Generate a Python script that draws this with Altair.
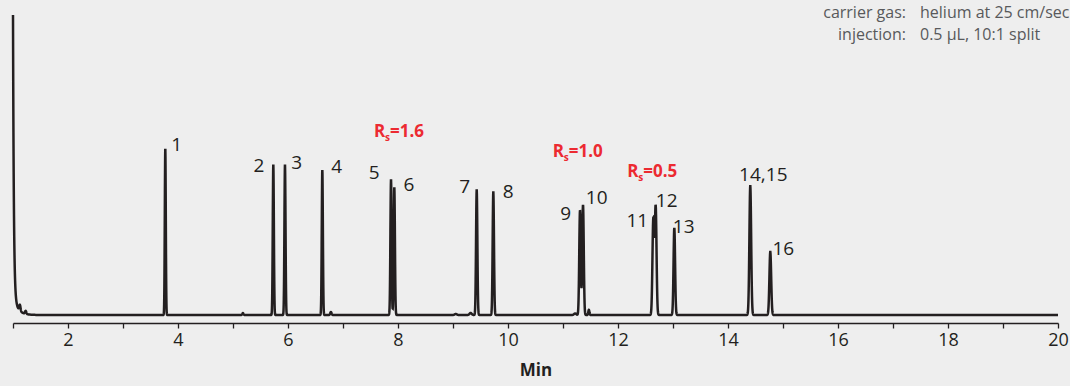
import altair as alt
import numpy as np
import pandas as pd

# ---- Peak table (retention time in min, height above baseline, Gaussian sigma in min)
peak_time = [3.769, 5.733, 5.945, 6.624, 7.873, 7.933, 9.431, 9.733,
             11.309, 11.364, 12.642, 12.685, 13.024, 14.405, 14.769]
peak_height = [166, 150, 150, 145, 135, 127, 125, 123,
               104, 110, 95, 108, 87, 129, 63]
peak_sigma = [0.009, 0.010, 0.010, 0.010, 0.011, 0.011, 0.012, 0.012,
              0.0135, 0.0135, 0.0155, 0.0155, 0.014, 0.016, 0.016]

# small baseline disturbances
bump_time = [1.125, 1.23, 5.18, 6.78, 9.32, 11.47, 11.22, 9.05]
bump_height = [6, 3, 2, 3, 2, 5, 1.5, 1]
bump_sigma = [0.012, 0.012, 0.01, 0.012, 0.02, 0.01, 0.02, 0.02]

# solvent front: fast drop plus a slower tail
solvent_start = 1.0
solvent_fast = [280, 0.015]
solvent_slow = [20, 0.08]

# ---- Peak labels (anchor in time / signal units)
label_text = ["1", "2", "3", "4", "5", "6", "7", "8", "9", "10",
              "11", "12", "13", "14,15", "16"]
label_t = [3.976, 5.473, 6.158, 6.885, 7.569, 8.200, 9.213, 10.005,
           11.049, 11.613, 12.351, 12.885, 13.195, 14.642, 15.005]
label_h = [170, 149, 152, 148, 142, 130, 128, 123,
           101, 117, 94, 114, 88, 140, 66]

# ---- Resolution annotations
rs_value = ["=1.6", "=1.0", "=0.5"]
rs_t = [7.564, 10.813, 12.169]
rs_h = [183, 163, 143]

# ---- Axis ticks
tick_values = list(range(1, 21))

# ---- Build the detector trace from the peak table
t = np.round(np.arange(1.0, 20.0 + 1e-9, 0.002), 4)
sig = np.zeros_like(t)
dt = t - solvent_start
sig += np.where(dt >= 0, solvent_fast[0] * np.exp(-dt / solvent_fast[1])
                + solvent_slow[0] * np.exp(-dt / solvent_slow[1]), 0)
for tr, h, s in zip(peak_time + bump_time, peak_height + bump_height,
                    peak_sigma + bump_sigma):
    sig += h * np.exp(-0.5 * ((t - tr) / s) ** 2)

trace = pd.DataFrame({"t": t, "signal": sig})
labels = pd.DataFrame({"text": label_text, "t": label_t, "h": label_h})
rs = pd.DataFrame({"value": rs_value, "t": rs_t, "h": rs_h})

INK = "#231f20"
RED = "#ec2a31"
FONT = "Open Sans"

x_scale = alt.Scale(domain=[1, 20], nice=False, zero=False)
y_scale = alt.Scale(domain=[-8, 300], nice=False, zero=False)

x_axis = alt.Axis(
    values=tick_values,
    labelExpr="datum.value % 2 == 0 ? datum.label : ''",
    format="d",
    grid=False,
    tickSize=5,
    tickWidth=1.3,
    tickColor=INK,
    domainColor=INK,
    domainWidth=1.3,
    labelFont=FONT,
    labelFontSize=18,
    labelColor=INK,
    labelPadding=3,
    labelFlush=False,
    labelOverlap=False,
    title="Min",
    titleFont=FONT,
    titleFontSize=17,
    titleFontWeight="bold",
    titleColor=INK,
    titlePadding=13,
)

line = alt.Chart(trace).mark_line(color=INK, strokeWidth=2.5).encode(
    x=alt.X("t:Q", scale=x_scale, axis=x_axis),
    y=alt.Y("signal:Q", scale=y_scale, axis=None),
)

peak_labels = alt.Chart(labels).mark_text(
    font=FONT, fontSize=19, color=INK, align="center", baseline="middle"
).encode(x=alt.X("t:Q", scale=x_scale), y=alt.Y("h:Q", scale=y_scale), text="text:N")

rs_r = alt.Chart(rs).mark_text(
    font=FONT, fontSize=17, fontWeight="bold", color=RED, align="left", baseline="middle"
).encode(x=alt.X("t:Q", scale=x_scale), y=alt.Y("h:Q", scale=y_scale), text=alt.value("R"))

rs_s = alt.Chart(rs).mark_text(
    font=FONT, fontSize=10, fontWeight="bold", color=RED, align="left",
    baseline="middle", dx=11, dy=6
).encode(x=alt.X("t:Q", scale=x_scale), y=alt.Y("h:Q", scale=y_scale), text=alt.value("s"))

rs_v = alt.Chart(rs).mark_text(
    font=FONT, fontSize=17, fontWeight="bold", color=RED, align="left",
    baseline="middle", dx=16
).encode(x=alt.X("t:Q", scale=x_scale), y=alt.Y("h:Q", scale=y_scale), text="value:N")

# conditions box in the upper right corner
cond_keys = ["carrier gas:", "injection:"]
cond_vals = ["helium at 25 cm/sec", "0.5 µL, 10:1 split"]
cond_y = [-2, 20]
conds = []
for k, v, yy in zip(cond_keys, cond_vals, cond_y):
    conds.append(alt.Chart(trace.head(1)).mark_text(
        font=FONT, fontSize=16, color="#58595b", align="right", baseline="middle"
    ).encode(x=alt.value(893), y=alt.value(yy), text=alt.value(k)))
    conds.append(alt.Chart(trace.head(1)).mark_text(
        font=FONT, fontSize=16, color="#58595b", align="left", baseline="middle"
    ).encode(x=alt.value(907), y=alt.value(yy), text=alt.value(v)))

chart = alt.layer(line, peak_labels, rs_r, rs_s, rs_v, *conds).properties(
    width=1045,
    height=308,
    background="#eeeeee",
    padding={"left": 13, "top": 15, "right": 12, "bottom": 63},
    autosize=alt.AutoSizeParams(type="none"),
).configure_view(stroke=None)

chart.save("out.html", embed_options={"renderer": "svg", "actions": False})
